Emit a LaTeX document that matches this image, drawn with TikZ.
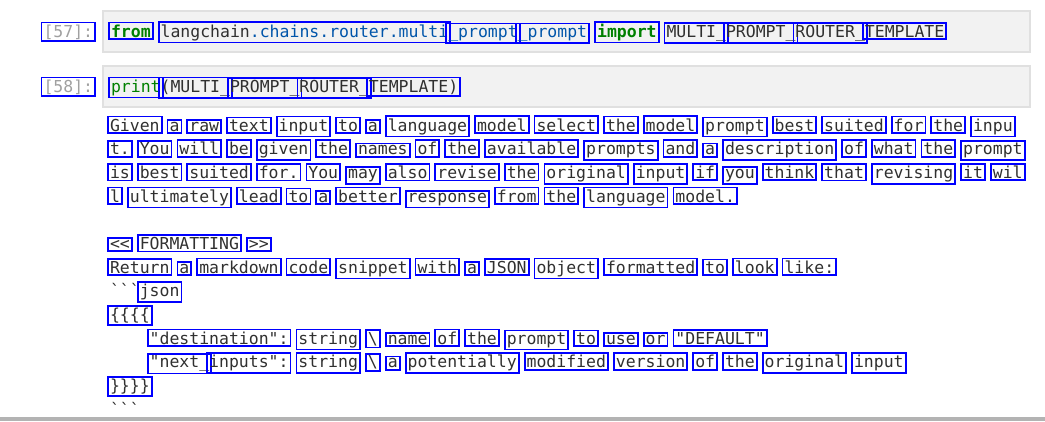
\documentclass[tikz,border=0pt]{standalone}
\usepackage{fontspec}
\setmonofont{DejaVu Sans Mono}
\definecolor{ocrblue}{HTML}{0000FF}
\definecolor{txt}{HTML}{303030}
\definecolor{kwgreen}{HTML}{008000}
\definecolor{propblue}{HTML}{0055AA}
\definecolor{promptgray}{HTML}{A0A0A0}
\definecolor{cellfill}{HTML}{F2F2F2}
\definecolor{cellborder}{HTML}{E0E0E0}
\definecolor{bargray}{HTML}{B3B3B3}
\newcommand\codesize{\ttfamily\fontsize{16.48}{20}\selectfont}
% output word: line, column, text
\newcommand\OW[3]{\node[wbox] (o#1c#2) at ({110+9.92*#2},{131+23.67*(#1-1)}) {#3};}
% code word: baseline, column, text
\newcommand\CW[3]{\node[wbox] (k#1c#2) at ({111+9.92*#2},{#1}) {#3};}
\begin{document}
\begin{tikzpicture}[x=1pt,y=-1pt,
  wbox/.style={draw=ocrblue, line width=1.8pt, inner xsep=2pt, inner ysep=2pt,
    anchor=text, font=\codesize, text=txt},
  plain/.style={inner sep=0pt, anchor=text, font=\codesize, text=txt},
  cellbox/.style={fill=cellfill, draw=cellborder, line width=1.2pt}]
\useasboundingbox (0,0) rectangle (1045,421);
% cells
\draw[cellbox] (103,11) rectangle (1030,52);
\draw[cellbox] (103,66) rectangle (1030,107);
\fill[bargray] (0,417) rectangle (1045,421);
% prompts
\node[wbox, text=promptgray] (p57) at (43.5,37) {[57]:};
\node[wbox, text=promptgray] (p58) at (43.5,92) {[58]:};
% cell 57
\CW{37}{0}{\textcolor{kwgreen}{\bfseries from}}
\CW{37}{5}{langchain\textcolor{propblue}{.chains.router.multi}}
\CW{37}{34}{\textcolor{propblue}{\_prompt}}
\CW{37}{41}{\textcolor{propblue}{\_prompt}}
\CW{37}{49}{\textcolor{kwgreen}{\bfseries import}}
\CW{37}{56}{MULTI\_}
\CW{37}{62}{PROMPT\_}
\CW{37}{69}{ROUTER\_}
\CW{37}{76}{TEMPLATE}
% cell 58
\CW{92}{0}{\textcolor{kwgreen}{print}}
\CW{92}{5}{(MULTI\_}
\CW{92}{12}{PROMPT\_}
\CW{92}{19}{ROUTER\_}
\CW{92}{26}{TEMPLATE)}
% output line 1
\OW{1}{0}{Given}\OW{1}{6}{a}\OW{1}{8}{raw}\OW{1}{12}{text}\OW{1}{17}{input}
\OW{1}{23}{to}\OW{1}{26}{a}\OW{1}{28}{language}\OW{1}{37}{model}\OW{1}{43}{select}
\OW{1}{50}{the}\OW{1}{54}{model}\OW{1}{60}{prompt}\OW{1}{67}{best}\OW{1}{72}{suited}
\OW{1}{79}{for}\OW{1}{83}{the}\OW{1}{87}{inpu}
% line 2
\OW{2}{0}{t.}\OW{2}{3}{You}\OW{2}{7}{will}\OW{2}{12}{be}\OW{2}{15}{given}
\OW{2}{21}{the}\OW{2}{25}{names}\OW{2}{31}{of}\OW{2}{34}{the}\OW{2}{38}{available}
\OW{2}{48}{prompts}\OW{2}{56}{and}\OW{2}{60}{a}\OW{2}{62}{description}\OW{2}{74}{of}
\OW{2}{77}{what}\OW{2}{82}{the}\OW{2}{86}{prompt}
% line 3
\OW{3}{0}{is}\OW{3}{3}{best}\OW{3}{8}{suited}\OW{3}{15}{for.}\OW{3}{20}{You}
\OW{3}{24}{may}\OW{3}{28}{also}\OW{3}{33}{revise}\OW{3}{40}{the}\OW{3}{44}{original}
\OW{3}{53}{input}\OW{3}{59}{if}\OW{3}{62}{you}\OW{3}{66}{think}\OW{3}{72}{that}
\OW{3}{77}{revising}\OW{3}{86}{it}\OW{3}{89}{wil}
% line 4
\OW{4}{0}{l}\OW{4}{2}{ultimately}\OW{4}{13}{lead}\OW{4}{18}{to}\OW{4}{21}{a}
\OW{4}{23}{better}\OW{4}{30}{response}\OW{4}{39}{from}\OW{4}{44}{the}
\OW{4}{48}{language}\OW{4}{57}{model.}
% line 6
\OW{6}{0}{<<}\OW{6}{3}{FORMATTING}\OW{6}{14}{>>}
% line 7
\OW{7}{0}{Return}\OW{7}{7}{a}\OW{7}{9}{markdown}\OW{7}{18}{code}\OW{7}{23}{snippet}
\OW{7}{31}{with}\OW{7}{36}{a}\OW{7}{38}{JSON}\OW{7}{43}{object}\OW{7}{50}{formatted}
\OW{7}{60}{to}\OW{7}{63}{look}\OW{7}{68}{like:}
% line 8
\node[plain] (o8t) at (110,{131+23.67*7}) {```};
\OW{8}{3}{json}
% line 9
\OW{9}{0}{\{\{\{\{}
% line 10
\OW{10}{4}{"destination":}\OW{10}{19}{string}\OW{10}{26}{\textbackslash}
\OW{10}{28}{name}\OW{10}{33}{of}\OW{10}{36}{the}\OW{10}{40}{prompt}\OW{10}{47}{to}
\OW{10}{50}{use}\OW{10}{54}{or}\OW{10}{57}{"DEFAULT"}
% line 11
\OW{11}{4}{"next\_}\OW{11}{10}{inputs":}\OW{11}{19}{string}\OW{11}{26}{\textbackslash}
\OW{11}{28}{a}\OW{11}{30}{potentially}\OW{11}{42}{modified}\OW{11}{51}{version}
\OW{11}{59}{of}\OW{11}{62}{the}\OW{11}{66}{original}\OW{11}{75}{input}
% line 12
\OW{12}{0}{\}\}\}\}}
% line 13
\node[plain] (o13t) at (110,{131+23.67*12}) {```};
\end{tikzpicture}
\end{document}
